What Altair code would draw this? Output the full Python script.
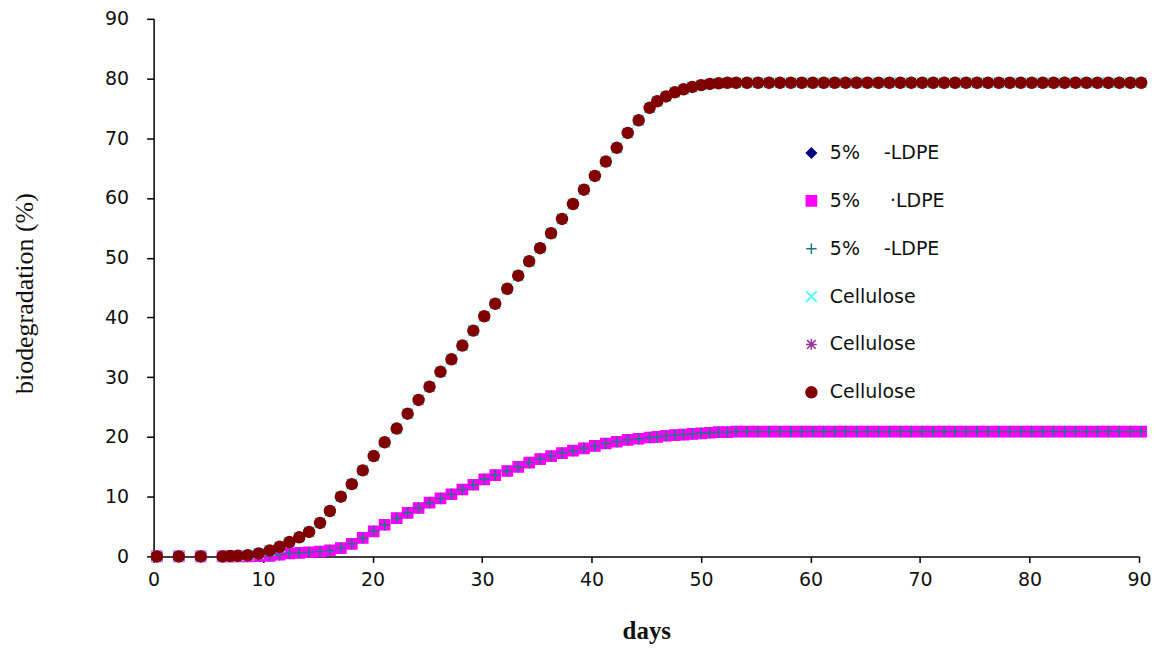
import altair as alt
import pandas as pd

# ---- data ----
days = [0.3, 2.3, 4.3, 6.3, 7.0, 7.7, 8.6, 9.6, 10.6, 11.5, 12.4, 13.3, 14.2, 15.2, 16.1,
        17.1, 18.1, 19.1, 20.1, 21.1, 22.2, 23.2, 24.2, 25.2, 26.2, 27.2, 28.2, 29.2, 30.2,
        31.2, 32.3, 33.3, 34.3, 35.3, 36.3, 37.3, 38.3, 39.3, 40.3, 41.3, 42.3, 43.3, 44.3,
        45.3, 46.0, 46.8, 47.6, 48.4, 49.2, 50.0, 50.8, 51.6, 52.4, 53.2, 54.2, 55.2, 56.2,
        57.2, 58.2, 59.2, 60.2, 61.2, 62.2, 63.2, 64.2, 65.2, 66.2, 67.2, 68.2, 69.2, 70.2,
        71.2, 72.2, 73.2, 74.2, 75.2, 76.2, 77.2, 78.2, 79.2, 80.2, 81.2, 82.2, 83.2, 84.2,
        85.2, 86.2, 87.2, 88.2, 89.2, 90.2]

cellulose = [0, 0, 0, 0, 0.05, 0.1, 0.2, 0.5, 1.0, 1.6, 2.4, 3.2, 4.1, 5.6, 7.6,
             10.0, 12.1, 14.4, 16.8, 19.1, 21.4, 23.9, 26.2, 28.4, 30.9, 33.0, 35.3, 37.8, 40.2,
             42.3, 44.8, 47.0, 49.4, 51.6, 54.1, 56.5, 59.0, 61.4, 63.7, 66.1, 68.4, 70.9, 73.0,
             75.1, 76.2, 77.0, 77.7, 78.2, 78.6, 78.9, 79.1, 79.2, 79.3, 79.3, 79.3, 79.3, 79.3,
             79.3, 79.3, 79.3, 79.3, 79.3, 79.3, 79.3, 79.3, 79.3, 79.3, 79.3, 79.3, 79.3, 79.3,
             79.3, 79.3, 79.3, 79.3, 79.3, 79.3, 79.3, 79.3, 79.3, 79.3, 79.3, 79.3, 79.3, 79.3,
             79.3, 79.3, 79.3, 79.3, 79.3, 79.3]

ldpe = [0, 0, 0, 0, 0, 0, 0, 0.05, 0.1, 0.3, 0.5, 0.6, 0.7, 0.8, 1.0,
        1.4, 2.1, 3.1, 4.2, 5.3, 6.4, 7.3, 8.1, 9.0, 9.7, 10.4, 11.2, 12.0, 12.9,
        13.6, 14.3, 15.0, 15.7, 16.3, 16.8, 17.3, 17.7, 18.1, 18.5, 18.9, 19.2, 19.5, 19.7,
        19.9, 20.0, 20.2, 20.3, 20.4, 20.5, 20.6, 20.7, 20.8, 20.8, 20.9, 20.9, 20.9, 20.9,
        20.9, 20.9, 20.9, 20.9, 20.9, 20.9, 20.9, 20.9, 20.9, 20.9, 20.9, 20.9, 20.9, 20.9,
        20.9, 20.9, 20.9, 20.9, 20.9, 20.9, 20.9, 20.9, 20.9, 20.9, 20.9, 20.9, 20.9, 20.9,
        20.9, 20.9, 20.9, 20.9, 20.9, 20.9]

series_keys = ["s1", "s2", "s3", "s4", "s5", "s6"]
series_labels = ["5%\u00a0\u00a0\u00a0\u00a0-LDPE", "5%\u00a0\u00a0\u00a0\u00a0\u00a0\u00b7LDPE",
                 "5%\u00a0\u00a0\u00a0\u00a0-LDPE", "Cellulose", "Cellulose", "Cellulose"]
series_data = [ldpe, ldpe, ldpe, cellulose, cellulose, cellulose]

shapes = ["diamond", "square", "M-1,0L1,0M0,-1L0,1",
          "M-1,-1L1,1M-1,1L1,-1",
          "M-1,0L1,0M0,-1L0,1M-0.8,-0.8L0.8,0.8M-0.8,0.8L0.8,-0.8", "circle"]
stroke_colors = ["#000080", "#FF00FF", "#1F7585", "#33FFFF", "#993399", "#800000"]
fill_colors = ["#000080", "#FF00FF", "transparent", "transparent", "transparent", "#800000"]
sizes = [100, 121, 130, 110, 110, 190]

rows = []
for key, vals in zip(series_keys, series_data):
    for d, v in zip(days, vals):
        rows.append({"day": d, "value": v, "series": key})
df = pd.DataFrame(rows)

label_expr = " : ".join(
    f"datum.label == '{k}' ? '{l}'" for k, l in zip(series_keys, series_labels)
) + " : ''"

legend = alt.Legend(
    title=None, orient="none", legendX=650, legendY=125, padding=0,
    labelExpr=label_expr, labelFont="DejaVu Sans", labelFontSize=19,
    labelColor="#111111", labelOffset=9, rowPadding=28, symbolStrokeWidth=1.5,
)

font = "DejaVu Sans"

chart = alt.Chart(df).mark_point(opacity=1, strokeWidth=1.5).encode(
    x=alt.X("day:Q", scale=alt.Scale(domain=[0, 90], nice=False, zero=False),
            axis=alt.Axis(values=list(range(0, 100, 10)), grid=False, tickSize=6,
                          labelPadding=8, labelFlush=False, labelFont=font, labelFontSize=19,
                          labelColor="#111111", domainColor="#000000", domainWidth=1.5,
                          tickColor="#000000", tickWidth=1.5,
                          titleFont="Liberation Serif", titleFontSize=25, titleFontWeight="bold",
                          titleY=74, titleBaseline="middle", titleColor="#111111"),
            title="days"),
    y=alt.Y("value:Q", scale=alt.Scale(domain=[0, 90], nice=False),
            axis=alt.Axis(values=list(range(0, 100, 10)), grid=False, tickSize=7,
                          labelPadding=18, labelFlush=False, labelFont=font, labelFontSize=19,
                          labelColor="#111111", domainColor="#000000", domainWidth=1.5,
                          tickColor="#000000", tickWidth=1.5,
                          titleFont="Liberation Serif", titleFontSize=26, titleFontWeight="normal",
                          titleX=-129, titleY=275, titleAngle=-90, titleAlign="center",
                          titleBaseline="middle", titleColor="#111111"),
            title="biodegradation (%)"),
    shape=alt.Shape("series:N", scale=alt.Scale(domain=series_keys, range=shapes), legend=legend),
    stroke=alt.Stroke("series:N", scale=alt.Scale(domain=series_keys, range=stroke_colors), legend=legend),
    fill=alt.Fill("series:N", scale=alt.Scale(domain=series_keys, range=fill_colors), legend=legend),
    size=alt.Size("series:N", scale=alt.Scale(domain=series_keys, range=sizes), legend=legend),
).properties(
    width=988, height=539,
    autosize=alt.AutoSizeParams(type="none"),
    padding={"left": 146, "top": 10, "right": 12, "bottom": 92},
).configure_view(strokeWidth=0)

chart.save("out.html", embed_options={"renderer": "svg", "actions": False})
